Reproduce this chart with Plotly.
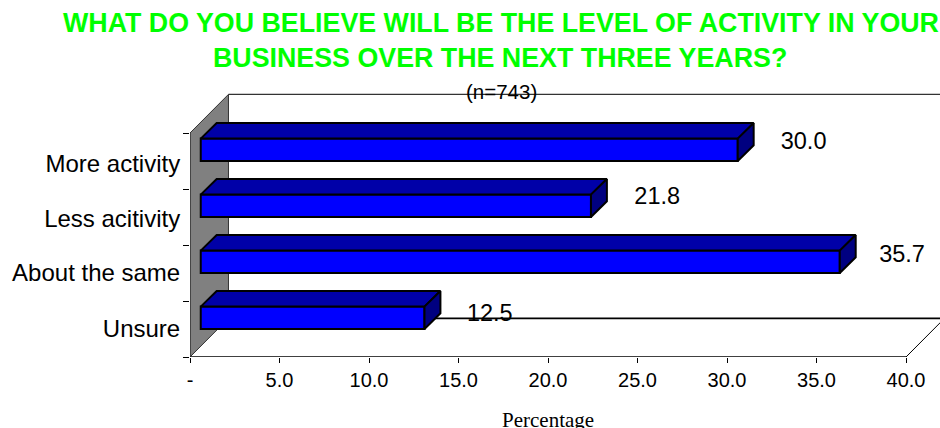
import plotly.graph_objects as go

categories = ["Unsure", "About the same", "Less acitivity", "More activity"]
values = [12.5, 35.7, 21.8, 30.0]
value_labels = ["12.5", "35.7", "21.8", "30.0"]
x_ticks = [0, 5, 10, 15, 20, 25, 30, 35, 40]
x_tick_labels = ["-", "5.0", "10.0", "15.0", "20.0", "25.0", "30.0", "35.0", "40.0"]
title_lines = ["WHAT DO YOU BELIEVE WILL BE THE LEVEL OF ACTIVITY IN YOUR",
               "BUSINESS OVER THE NEXT THREE YEARS?"]
subtitle = "(n=743)"

XMAX = 40
W_DX, W_DY = 2.15, 0.69      # depth of the chart box, axis units
B_DX, B_DY = 0.89, 0.28      # depth of each bar
B_X0 = 0.6                   # bars start this far from the front wall
B_LO, B_H = 0.5, 0.4         # front-face position within each category band
LABEL_DX = [3.65, 3.48, 3.70, 3.68]
LABEL_DY = [0.75, 0.80, 0.84, 0.82]
CATEGORY_DY = [0.515, 0.515, 0.48, 0.445]

# The page margin is removed below, so the figure fills the window.
FIG_W, FIG_H = 940, 428
L, R, T, B = 190, 0, 90, 71
PLOT_W, PLOT_H = FIG_W - L - R, FIG_H - T - B
X_RANGE = [0, PLOT_W / 17.9]
Y_RANGE = [0, PLOT_H / 56.0]

fig = go.Figure()


def poly(xs, ys, fill, line_w=0.0, zorder=0, line_color="black"):
    fig.add_trace(go.Scatter(
        x=xs, y=ys, mode="lines", fill="toself", fillcolor=fill,
        line=dict(color=line_color, width=line_w), cliponaxis=False,
        hoverinfo="skip", showlegend=False, zorder=zorder))


def line(xs, ys, width, color="black", zorder=0):
    fig.add_trace(go.Scatter(
        x=xs, y=ys, mode="lines", line=dict(color=color, width=width),
        cliponaxis=False, hoverinfo="skip", showlegend=False, zorder=zorder))


n = len(categories)
# left wall
poly([0, W_DX, W_DX, 0, 0], [n, n + W_DY, W_DY, 0, n], "#808080", 1, 0, "#333333")
# back wall edges, floor edge and the two axis lines
line([W_DX, XMAX + W_DX], [n + W_DY, n + W_DY], 1.3, "#333333")
line([W_DX, XMAX + W_DX], [W_DY, W_DY], 1.6)
line([XMAX, XMAX + W_DX], [0, W_DY], 1)
line([0, XMAX], [0, 0], 1.5)
line([0, 0], [0, n], 1, "#333333")

# front faces
fig.add_trace(go.Bar(
    y=[i + B_LO + B_H / 2 for i in range(n)], x=values, base=B_X0,
    orientation="h", width=B_H, marker=dict(color="#0000FF", line=dict(color="black", width=2)),
    hoverinfo="skip", showlegend=False, zorder=1))

# top and side faces
for i, v in enumerate(values):
    lo, hi = i + B_LO, i + B_LO + B_H
    x0, x1 = B_X0, B_X0 + v
    poly([x0, x0 + B_DX, x1 + B_DX, x1, x0], [hi, hi + B_DY, hi + B_DY, hi, hi], "#0000A8", 2, 2)
    poly([x1, x1 + B_DX, x1 + B_DX, x1, x1], [hi, hi + B_DY, lo + B_DY, lo, hi], "#000080", 2, 2)

# value labels
fig.add_trace(go.Scatter(
    x=[B_X0 + v + dx for v, dx in zip(values, LABEL_DX)],
    y=[i + dy for i, dy in enumerate(LABEL_DY)],
    mode="text", text=value_labels, textposition="middle center",
    textfont=dict(family="Liberation Sans", size=23.5, color="black"),
    cliponaxis=False, hoverinfo="skip", showlegend=False, zorder=3))


def note(text, px, py, font):
    return dict(text=text, x=(px - L) / PLOT_W, y=(FIG_H - B - py) / PLOT_H,
                xref="paper", yref="paper", showarrow=False,
                xanchor="center", yanchor="middle", font=font)


title_font = dict(family="Liberation Sans", size=26.8, color="#00FF00", weight="bold")
fig.update_layout(
    width=FIG_W, height=FIG_H, autosize=False,
    margin=dict(l=L, r=R, t=T, b=B, autoexpand=False),
    paper_bgcolor="white", plot_bgcolor="rgba(0,0,0,0)",
    font=dict(family="Liberation Sans", color="black"),
    xaxis=dict(
        range=X_RANGE, tickmode="array", tickvals=x_ticks, ticktext=x_tick_labels,
        ticks="outside", ticklen=5, tickwidth=1, tickcolor="black",
        tickfont=dict(family="Liberation Sans", size=20, color="black"),
        showline=False, showgrid=False, zeroline=False),
    yaxis=dict(
        range=Y_RANGE, tickmode="array", tickvals=[i + d for i, d in enumerate(CATEGORY_DY)],
        ticktext=categories, ticks="outside", ticklen=4, tickcolor="rgba(0,0,0,0)",
        tickfont=dict(family="Liberation Sans", size=24, color="black"),
        minor=dict(tickmode="array", tickvals=list(range(n + 1)), ticks="outside",
                   ticklen=6, tickwidth=1, tickcolor="black"),
        showline=False, showgrid=False, zeroline=False),
    annotations=[
        note(title_lines[0], 500.5, 23, title_font),
        note(title_lines[1], 500, 58, title_font),
        note(subtitle, 501, 91, dict(family="Liberation Sans", size=20.5, color="black")),
        note("Percentage", 548, 420, dict(family="Liberation Serif", size=21, color="black")),
    ],
)

fig.write_html("out.html", config={"displayModeBar": False},
               post_script="document.body.style.margin='0';document.body.style.overflow='hidden';")
